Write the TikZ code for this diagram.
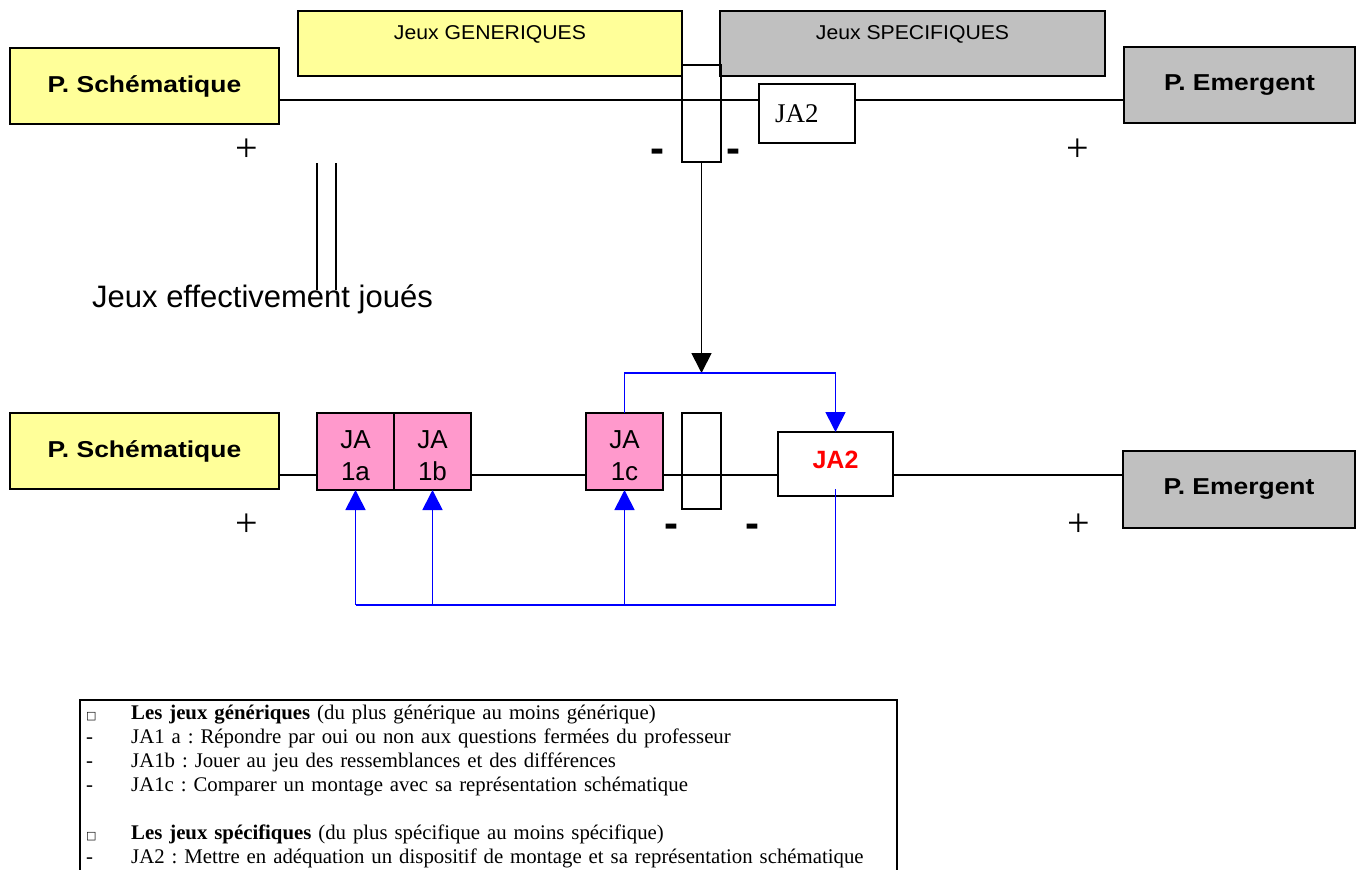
\documentclass[tikz,border=0pt]{standalone}
\usepackage{fontspec}
\usetikzlibrary{arrows.meta}
\newfontfamily\arialP[FakeStretch=1.15]{Liberation Sans}
\newfontfamily\arialN{Liberation Sans}
\newfontfamily\arialW[FakeStretch=1.06]{Liberation Sans}
\newfontfamily\tnr{Liberation Serif}
\newfontfamily\dejavu{DejaVu Sans}
\definecolor{pyellow}{HTML}{FFFF99}
\definecolor{pgray}{HTML}{C0C0C0}
\definecolor{ppink}{HTML}{FF99CC}
\definecolor{pblue}{HTML}{0000FF}
\definecolor{pred}{HTML}{FF0000}
\newcommand\lbul{\leavevmode\llap{\makebox[45pt][l]{\dejavu\fontsize{11}{11}\selectfont □}}}
\newcommand\ldash{\leavevmode\llap{\makebox[45pt][l]{-}}}
\begin{document}
\begin{tikzpicture}[x=1pt,y=-1pt,
  pxbox/.style={draw=black,line width=1.4pt,inner sep=0pt,outer sep=0pt,anchor=north west},
  pbox/.style={pxbox,font=\arialP\bfseries\fontsize{23}{27}\selectfont},
  jbox/.style={pxbox,font=\arialW\fontsize{20}{24}\selectfont,text depth=22pt},
  jabox/.style={pxbox,fill=ppink,minimum width=77pt,minimum height=77pt,align=center,text height=57.6pt,font=\arialN\fontsize{26}{32}\selectfont},
  slotbox/.style={pxbox,minimum width=39pt},
  conn/.style={draw=black,line width=1.8pt},
  bconn/.style={draw=pblue,line width=1.7pt},
  btip/.style={bconn,-{Triangle[width=20pt,length=20pt]}},
  signplus/.style={anchor=base,inner sep=0pt,font=\tnr\fontsize{40}{40}\selectfont},
  signminus/.style={anchor=base,inner sep=0pt,font=\arialN\bfseries\fontsize{42}{42}\selectfont},
]
\useasboundingbox (0,0) rectangle (1358,870);
\fill[white] (0,0) rectangle (1358,870);

% ---- top row ----
\node[pbox,fill=pyellow,minimum width=269pt,minimum height=76pt] (PS1) at (10,48) {P. Schématique};
\node[jbox,fill=pyellow,minimum width=384pt,minimum height=65pt] (JG) at (298,11) {Jeux GENERIQUES};
\node[jbox,fill=pgray,minimum width=385pt,minimum height=65pt] (JS) at (720,11) {Jeux SPECIFIQUES};
\node[slotbox,minimum height=97pt] (R1) at (682,65) {};
\node[pxbox,fill=white,minimum width=96pt,minimum height=59pt,text width=64pt,inner xsep=16pt,align=left,font=\tnr\fontsize{27}{30}\selectfont] (JA2t) at (759,84) {JA2};
\node[pbox,fill=pgray,minimum width=231pt,minimum height=76pt] (PE1) at (1124,47) {P. Emergent};

\coordinate (L1) at (0,100);
\draw[conn] (PS1.east |- L1) -- (JA2t.west |- L1);
\draw[conn] (JA2t.east |- L1) -- (PE1.west |- L1);

\node[signplus] (p1) at (247,161) {+};
\node[signminus] (m1) at (657,162) {-};
\node[signminus] (m2) at (733,162) {-};
\node[signplus] (p2) at (1078,161) {+};

% ---- middle ----
\coordinate (V1a) at (317,163);
\coordinate (V1b) at (317,290);
\coordinate (V2a) at (336,163);
\coordinate (V2b) at (336,290);
\draw[conn,line width=1.4pt] (V1a) -- (V1b);
\draw[conn,line width=1.4pt] (V2a) -- (V2b);
\node[anchor=base west,inner sep=0pt,font=\arialN\fontsize{31}{36}\selectfont] (JEJ) at (92,307) {Jeux effectivement joués};

% ---- bottom row ----
\node[pbox,fill=pyellow,minimum width=269pt,minimum height=76pt] (PS2) at (10,413) {P. Schématique};
\node[jabox] (JA1a) at (317,413) {JA\\1a};
\node[jabox] (JA1b) at (394,413) {JA\\1b};
\node[jabox] (JA1c) at (586,413) {JA\\1c};
\node[slotbox,minimum height=96pt] (R2) at (682,413) {};
\node[pxbox,fill=white,minimum width=115pt,minimum height=64pt,text=pred,text depth=8pt,font=\arialN\bfseries\fontsize{25}{30}\selectfont] (JA2b) at (778,432) {JA2};
\node[pbox,fill=pgray,minimum width=232pt,minimum height=77pt] (PE2) at (1123,451) {P. Emergent};

\coordinate (L2) at (0,475);
\draw[conn] (PS2.east |- L2) -- (JA1a.west |- L2);
\draw[conn] (JA1b.east |- L2) -- (JA1c.west |- L2);
\draw[conn] (JA1c.east |- L2) -- (JA2b.west |- L2);
\draw[conn] (JA2b.east |- L2) -- (PE2.west |- L2);

\coordinate (T) at (701.5,373);
\draw[conn,-{Triangle[width=20pt,length=20pt]}] (R1.south) -- (T);
\draw[btip] (JA1c.north) -- (JA1c.north |- T) -- (JA2b.north |- T) -- (JA2b.north);

\coordinate (B) at (0,605);
\draw[bconn] ([yshift=7pt]JA2b.south) -- (JA2b.south |- B) -- (JA1a.south |- B);
\draw[btip] (JA1a.south |- B) -- (JA1a.south);
\draw[btip] (JA1b.south |- B) -- (JA1b.south);
\draw[btip] (JA1c.south |- B) -- (JA1c.south);

\node[signplus] (p3) at (247,536) {+};
\node[signminus] (m3) at (671,537) {-};
\node[signminus] (m4) at (752,537) {-};
\node[signplus] (p4) at (1079,536) {+};

% ---- legend ----
\coordinate (F1) at (80,872);
\coordinate (F2) at (80,700);
\coordinate (F3) at (897,700);
\coordinate (F4) at (897,872);
\draw[line width=2.5pt] (F1) -- (F2) -- (F3) -- (F4);
\node[anchor=base west,inner sep=0pt,text width=760pt,align=left,font=\tnr\fontsize{20.8}{24}\selectfont\frenchspacing] (leg) at (131,719) {%
\lbul\textbf{Les jeux génériques} (du plus générique au moins générique)\\
\ldash JA1 a : Répondre par oui ou non aux questions fermées du professeur\\
\ldash JA1b : Jouer au jeu des ressemblances et des différences\\
\ldash JA1c : Comparer un montage avec sa représentation schématique\\[24pt]
\lbul\textbf{Les jeux spécifiques} (du plus spécifique au moins spécifique)\\
\ldash JA2 : Mettre en adéquation un dispositif de montage et sa représentation schématique};
\end{tikzpicture}
\end{document}
